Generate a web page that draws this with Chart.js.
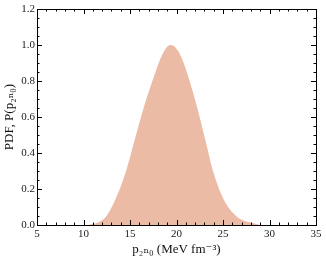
<!DOCTYPE html>
<html>
<head>
<meta charset="utf-8">
<script src="https://cdn.jsdelivr.net/npm/chart.js@4/dist/chart.umd.min.js"></script>
<style>
  html, body { margin: 0; padding: 0; background: #fff; }
  #wrap { width: 326px; height: 261px; }
</style>
</head>
<body>
<div id="wrap"><canvas id="pdf"></canvas></div>
<script>
// values
const pressure = [10.5, 11.0, 11.5, 12.4, 13.4, 14.5, 15.5, 16.5, 17.7, 18.2, 18.6, 19.0, 19.4, 19.8, 20.3, 20.7, 21.15, 22.2, 23.1, 24.0, 25.1, 26.5, 27.2, 28.1, 29.0];
const density = [0, 0.005, 0.013, 0.046, 0.139, 0.287, 0.472, 0.657, 0.843, 0.915, 0.96, 0.99, 1.0, 0.99, 0.955, 0.91, 0.843, 0.657, 0.472, 0.287, 0.139, 0.046, 0.025, 0.013, 0];
const xTicks = [5, 10, 15, 20, 25, 30, 35];
const yTicks = [0.0, 0.2, 0.4, 0.6, 0.8, 1.0, 1.2];

const serif = "'Liberation Serif', 'DejaVu Serif', serif";

// inward ticks on all four sides, like the original
const innerTicks = {
    id: 'innerTicks',
    afterDraw (chart) {
        const { ctx, chartArea: a, scales: { x, y } } = chart;
        ctx.save();
        ctx.strokeStyle = '#000';
        ctx.lineWidth = 1;
        ctx.beginPath();
        for (let v = 5; v <= 35; v += 1) {
            const px = Math.round(x.getPixelForValue(v)) + 0.5;
            const len = v % 5 === 0 ? 5 : 2.5;
            ctx.moveTo(px, a.bottom); ctx.lineTo(px, a.bottom - len);
            ctx.moveTo(px, a.top); ctx.lineTo(px, a.top + len);
        }
        for (let i = 0; i <= 24; i++) {
            const py = Math.round(y.getPixelForValue(i * 0.05)) + 0.5;
            const len = i % 4 === 0 ? 5 : 2.5;
            ctx.moveTo(a.left, py); ctx.lineTo(a.left + len, py);
            ctx.moveTo(a.right, py); ctx.lineTo(a.right - len, py);
        }
        ctx.stroke();
        ctx.strokeRect(Math.round(a.left) + 0.5, Math.round(a.top) + 0.5,
            Math.round(a.right - a.left), Math.round(a.bottom - a.top));
        ctx.restore();
    }
};

new Chart(document.getElementById('pdf'), {
    type: 'line',
    data: {
        datasets: [{
            data: pressure.map((p, i) => ({ x: p, y: density[i] })),
            fill: 'origin',
            backgroundColor: 'rgb(235, 187, 166)',
            borderWidth: 0,
            pointRadius: 0,
            cubicInterpolationMode: 'monotone'
        }]
    },
    options: {
        responsive: true,
        maintainAspectRatio: false,
        animation: false,
        layout: { padding: { top: 9, right: 10, left: 2, bottom: 4 } },
        plugins: {
            legend: { display: false },
            tooltip: { enabled: false }
        },
        scales: {
            x: {
                type: 'linear',
                min: 5,
                max: 35,
                afterBuildTicks: (s) => { s.ticks = xTicks.map(v => ({ value: v })); },
                afterFit: (s) => { s.height = 32; },
                grid: { display: false, drawTicks: false },
                border: { display: false },
                ticks: { padding: 3, color: '#222', font: { family: serif, size: 11 }, maxRotation: 0 },
                title: {
                    display: true,
                    text: 'p₂ₙ₀ (MeV fm⁻³)',
                    color: '#111',
                    padding: { top: 0, bottom: 0 },
                    font: { family: serif, size: 13, weight: 'normal' }
                }
            },
            y: {
                min: 0,
                max: 1.2,
                afterBuildTicks: (s) => { s.ticks = yTicks.map(v => ({ value: v })); },
                afterFit: (s) => { s.width = 35; },
                grid: { display: false, drawTicks: false },
                border: { display: false },
                ticks: {
                    padding: 2,
                    color: '#222',
                    font: { family: serif, size: 11 },
                    callback: (v) => Number(v).toFixed(1)
                },
                title: {
                    display: true,
                    text: 'PDF, P(p₂ₙ₀)',
                    color: '#111',
                    padding: { top: 0, bottom: 0 },
                    font: { family: serif, size: 13, weight: 'normal' }
                }
            }
        }
    },
    plugins: [innerTicks]
});
</script>
</body>
</html>
